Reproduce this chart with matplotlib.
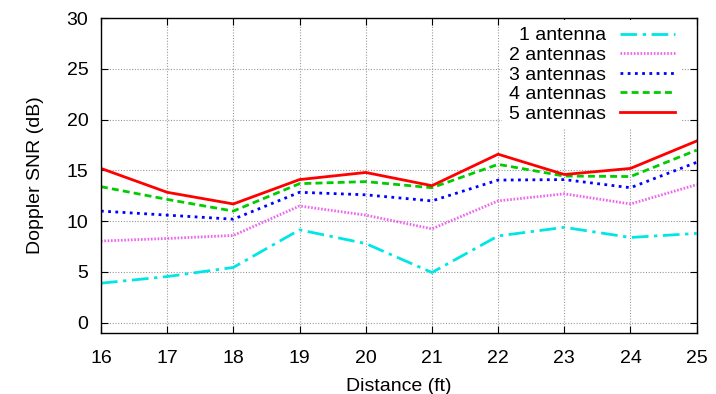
import matplotlib
matplotlib.use("Agg")
import matplotlib.pyplot as plt

plt.rcParams['font.family'] = ['Liberation Sans', 'DejaVu Sans']

distance = [16, 17, 18, 19, 20, 21, 22, 23, 24, 25]
snr_1 = [3.9, 4.55, 5.45, 9.15, 7.8, 4.95, 8.55, 9.4, 8.4, 8.8]
snr_2 = [8.05, 8.3, 8.6, 11.5, 10.6, 9.25, 12.0, 12.7, 11.7, 13.6]
snr_3 = [11.0, 10.6, 10.2, 12.85, 12.6, 12.0, 14.05, 14.1, 13.3, 15.8]
snr_4 = [13.4, 12.15, 11.0, 13.7, 13.9, 13.3, 15.6, 14.45, 14.4, 17.0]
snr_5 = [15.2, 12.85, 11.7, 14.1, 14.8, 13.5, 16.6, 14.6, 15.2, 17.9]
labels = ['1 antenna', '2 antennas', '3 antennas', '4 antennas', '5 antennas']
yticks = [0, 5, 10, 15, 20, 25, 30]

fig = plt.figure(figsize=(7.16, 3.94), dpi=100)
ax = fig.add_axes([0.141, 0.155, 0.832, 0.799])

lw = 2.0
ax.plot(distance, snr_1, color='#00e6e6', lw=lw, dashes=(6, 2, 1.2, 2), label=labels[0])
ax.plot(distance, snr_2, color='#ee66ee', lw=lw, dashes=(0.6, 0.6), label=labels[1])
ax.plot(distance, snr_3, color='#0000ff', lw=lw, dashes=(1, 1.6), label=labels[2])
ax.plot(distance, snr_4, color='#00cc00', lw=lw, dashes=(2.5, 1.5), label=labels[3])
ax.plot(distance, snr_5, color='#ff0000', lw=lw, label=labels[4])

ax.set_xlim(16, 25)
ax.set_ylim(-1.0, 30)
ax.set_xticks(distance)
ax.set_yticks(yticks)
ax.tick_params(direction='in', top=True, right=True, labelsize=14, length=5)
ax.tick_params(axis='x', pad=12)
ax.tick_params(axis='y', pad=9)
ax.grid(True, color='#999999', linestyle=(0, (1, 1.5)), lw=0.8)
for s in ax.spines.values():
    s.set_linewidth(1.0)
ax.set_xlabel('Distance (ft)', fontsize=14, labelpad=8)
ax.set_ylabel('Doppler SNR (dB)', fontsize=14, labelpad=16)

leg = ax.legend(loc='upper right', bbox_to_anchor=(0.975, 0.994), markerfirst=False,
                fontsize=14, frameon=True,
                facecolor='white', edgecolor='none', framealpha=1, fancybox=False,
                handlelength=2.85, labelspacing=0.1, borderaxespad=0.0, handletextpad=0.7,
                borderpad=0.35)

fig.savefig('out.png', dpi=100)
